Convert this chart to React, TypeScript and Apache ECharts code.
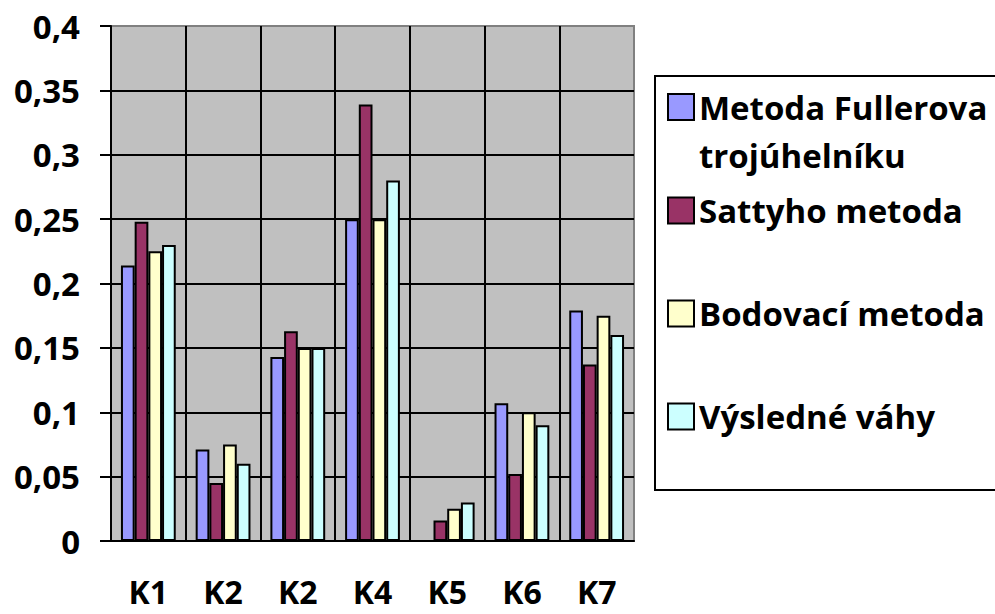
import React, { useEffect, useRef } from "react";
import * as echarts from "echarts";

const categories = ["K1", "K2", "K2", "K4", "K5", "K6", "K7"];
const seriesNames = [
  "Metoda Fullerova trojúhelníku",
  "Sattyho metoda",
  "Bodovací metoda",
  "Výsledné váhy",
];
const fuller = [0.214, 0.071, 0.143, 0.25, 0, 0.107, 0.179];
const satty = [0.248, 0.045, 0.163, 0.339, 0.016, 0.052, 0.137];
const bodovaci = [0.225, 0.075, 0.15, 0.25, 0.025, 0.1, 0.175];
const vysledne = [0.23, 0.06, 0.15, 0.28, 0.03, 0.09, 0.16];
const colors = ["#9999FF", "#993366", "#FFFFCC", "#CCFFFF"];

const FONT = "'Open Sans', sans-serif";
const FS = 33;

export default function App() {
  const ref = useRef<HTMLDivElement>(null);
  useEffect(() => {
    document.body.style.margin = "0";
    if (!ref.current) return;
    const chart = echarts.init(ref.current, null, { renderer: "svg" });
    const values = [fuller, satty, bodovaci, vysledne];
    const legendTops = [35, 190.5, 293.5, 396.5];
    const legends = seriesNames.map((name, i) => ({
      data: [name],
      left: 667,
      top: legendTops[i],
      orient: "vertical",
      padding: 0,
      itemWidth: 26,
      itemHeight: 26,
      icon: "rect",
      selectedMode: false,
      formatter: (n: string) =>
        n === seriesNames[0] ? "\nMetoda Fullerova\ntrojúhelníku" : n,
      textStyle: {
        fontFamily: FONT,
        fontWeight: "bold",
        fontSize: FS,
        color: "#000",
        lineHeight: i === 0 ? 48 : 40,
      },
    }));
    chart.setOption({
      animation: false,
      backgroundColor: "#fff",
      grid: {
        left: 111,
        right: 361,
        top: 26,
        bottom: 73,
        show: true,
        backgroundColor: "#C0C0C0",
        borderColor: "#808080",
        borderWidth: 2,
      },
      graphic: [
        {
          type: "rect",
          x: 655,
          y: 76,
          shape: { x: 0, y: 0, width: 400, height: 414 },
          style: { fill: "#fff", stroke: "#000", lineWidth: 2 },
          z: 0,
        },
      ],
      legend: legends,
      xAxis: {
        type: "category",
        data: categories,
        axisLine: { lineStyle: { color: "#000", width: 2 } },
        axisTick: { length: 12, lineStyle: { color: "#000", width: 2 } },
        axisLabel: {
          fontFamily: FONT,
          fontWeight: "bold",
          fontSize: 32,
          color: "#000",
          lineHeight: 32,
          margin: 34,
          interval: 0,
        },
        splitLine: {
          show: true,
          showMinLine: false,
          showMaxLine: false,
          lineStyle: { color: "#000", width: 2 },
        },
      },
      yAxis: {
        type: "value",
        min: 0,
        max: 0.4,
        interval: 0.05,
        axisLine: { show: true, lineStyle: { color: "#000", width: 2 } },
        axisTick: { show: true, length: 11, lineStyle: { color: "#000", width: 2 } },
        axisLabel: {
          fontFamily: FONT,
          fontWeight: "bold",
          fontSize: FS,
          color: "#000",
          margin: 31,
          formatter: (v: number) => String(+v.toFixed(2)).replace(".", ","),
        },
        splitLine: {
          show: true,
          showMinLine: false,
          showMaxLine: false,
          lineStyle: { color: "#000", width: 2 },
        },
      },
      series: seriesNames.map((name, i) => ({
        name,
        type: "bar",
        data: values[i],
        barGap: "0%",
        barWidth: 13.7,
        itemStyle: { color: colors[i], borderColor: "#000", borderWidth: 2 },
      })),
    });
    return () => chart.dispose();
  }, []);
  return <div ref={ref} style={{ width: 995, height: 614 }} />;
}
